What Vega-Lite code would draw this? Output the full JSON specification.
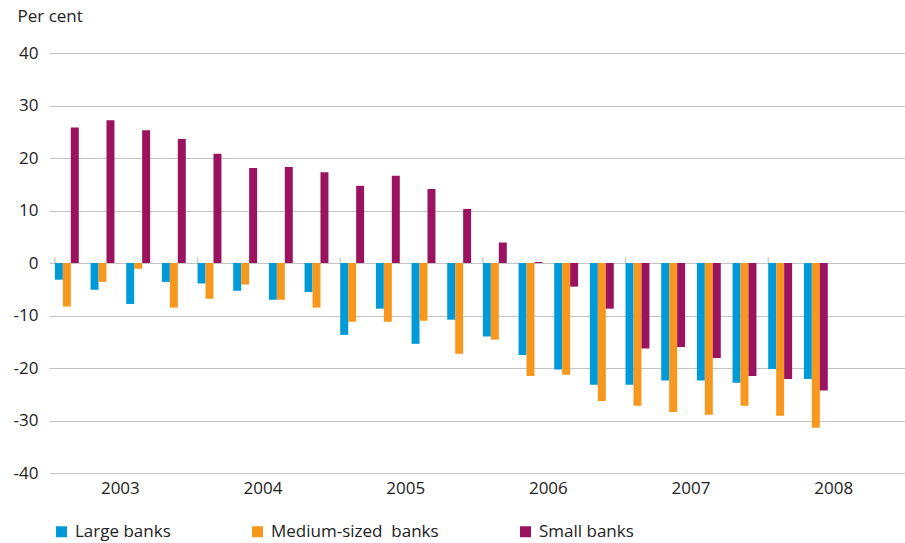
{
  "$schema": "https://vega.github.io/schema/vega-lite/v6.json",
  "width": 856,
  "height": 420,
  "autosize": "none",
  "padding": {"left": 49, "top": 53, "right": 0, "bottom": 70},
  "background": "white",
  "config": {
    "font": "Open Sans",
    "view": {"stroke": null}
  },
  "datasets": {
    "bars": [
      {"q": "2003Q1", "series": "Large banks", "value": -3.2},
      {"q": "2003Q1", "series": "Medium-sized banks", "value": -8.3},
      {"q": "2003Q1", "series": "Small banks", "value": 25.8},
      {"q": "2003Q2", "series": "Large banks", "value": -5.1},
      {"q": "2003Q2", "series": "Medium-sized banks", "value": -3.6},
      {"q": "2003Q2", "series": "Small banks", "value": 27.2},
      {"q": "2003Q3", "series": "Large banks", "value": -7.8},
      {"q": "2003Q3", "series": "Medium-sized banks", "value": -1.1},
      {"q": "2003Q3", "series": "Small banks", "value": 25.3},
      {"q": "2003Q4", "series": "Large banks", "value": -3.6},
      {"q": "2003Q4", "series": "Medium-sized banks", "value": -8.5},
      {"q": "2003Q4", "series": "Small banks", "value": 23.6},
      {"q": "2004Q1", "series": "Large banks", "value": -3.9},
      {"q": "2004Q1", "series": "Medium-sized banks", "value": -6.8},
      {"q": "2004Q1", "series": "Small banks", "value": 20.8},
      {"q": "2004Q2", "series": "Large banks", "value": -5.3},
      {"q": "2004Q2", "series": "Medium-sized banks", "value": -4.1},
      {"q": "2004Q2", "series": "Small banks", "value": 18.1},
      {"q": "2004Q3", "series": "Large banks", "value": -7.0},
      {"q": "2004Q3", "series": "Medium-sized banks", "value": -7.0},
      {"q": "2004Q3", "series": "Small banks", "value": 18.3},
      {"q": "2004Q4", "series": "Large banks", "value": -5.5},
      {"q": "2004Q4", "series": "Medium-sized banks", "value": -8.5},
      {"q": "2004Q4", "series": "Small banks", "value": 17.3},
      {"q": "2005Q1", "series": "Large banks", "value": -13.7},
      {"q": "2005Q1", "series": "Medium-sized banks", "value": -11.2},
      {"q": "2005Q1", "series": "Small banks", "value": 14.7},
      {"q": "2005Q2", "series": "Large banks", "value": -8.7},
      {"q": "2005Q2", "series": "Medium-sized banks", "value": -11.2},
      {"q": "2005Q2", "series": "Small banks", "value": 16.6},
      {"q": "2005Q3", "series": "Large banks", "value": -15.4},
      {"q": "2005Q3", "series": "Medium-sized banks", "value": -11.0},
      {"q": "2005Q3", "series": "Small banks", "value": 14.1},
      {"q": "2005Q4", "series": "Large banks", "value": -10.8},
      {"q": "2005Q4", "series": "Medium-sized banks", "value": -17.3},
      {"q": "2005Q4", "series": "Small banks", "value": 10.3},
      {"q": "2006Q1", "series": "Large banks", "value": -14.0},
      {"q": "2006Q1", "series": "Medium-sized banks", "value": -14.6},
      {"q": "2006Q1", "series": "Small banks", "value": 3.9},
      {"q": "2006Q2", "series": "Large banks", "value": -17.5},
      {"q": "2006Q2", "series": "Medium-sized banks", "value": -21.5},
      {"q": "2006Q2", "series": "Small banks", "value": 0.2},
      {"q": "2006Q3", "series": "Large banks", "value": -20.3},
      {"q": "2006Q3", "series": "Medium-sized banks", "value": -21.3},
      {"q": "2006Q3", "series": "Small banks", "value": -4.5},
      {"q": "2006Q4", "series": "Large banks", "value": -23.2},
      {"q": "2006Q4", "series": "Medium-sized banks", "value": -26.3},
      {"q": "2006Q4", "series": "Small banks", "value": -8.7},
      {"q": "2007Q1", "series": "Large banks", "value": -23.2},
      {"q": "2007Q1", "series": "Medium-sized banks", "value": -27.2},
      {"q": "2007Q1", "series": "Small banks", "value": -16.3},
      {"q": "2007Q2", "series": "Large banks", "value": -22.4},
      {"q": "2007Q2", "series": "Medium-sized banks", "value": -28.4},
      {"q": "2007Q2", "series": "Small banks", "value": -16.0},
      {"q": "2007Q3", "series": "Large banks", "value": -22.4},
      {"q": "2007Q3", "series": "Medium-sized banks", "value": -28.9},
      {"q": "2007Q3", "series": "Small banks", "value": -18.1},
      {"q": "2007Q4", "series": "Large banks", "value": -22.8},
      {"q": "2007Q4", "series": "Medium-sized banks", "value": -27.2},
      {"q": "2007Q4", "series": "Small banks", "value": -21.5},
      {"q": "2008Q1", "series": "Large banks", "value": -20.2},
      {"q": "2008Q1", "series": "Medium-sized banks", "value": -29.1},
      {"q": "2008Q1", "series": "Small banks", "value": -22.1},
      {"q": "2008Q2", "series": "Large banks", "value": -22.1},
      {"q": "2008Q2", "series": "Medium-sized banks", "value": -31.4},
      {"q": "2008Q2", "series": "Small banks", "value": -24.3}
    ],
    "ticks": [
      {"q": "2003Q1"}, {"q": "2004Q1"}, {"q": "2005Q1"}, {"q": "2006Q1"}, {"q": "2007Q1"}, {"q": "2008Q1"}
    ]
  },
  "layer": [
    {
      "data": {"name": "bars"},
      "mark": {"type": "bar"},
      "encoding": {
        "x": {
          "field": "q",
          "type": "nominal",
          "scale": {
            "domain": ["2003Q1","2003Q2","2003Q3","2003Q4","2004Q1","2004Q2","2004Q3","2004Q4","2005Q1","2005Q2","2005Q3","2005Q4","2006Q1","2006Q2","2006Q3","2006Q4","2007Q1","2007Q2","2007Q3","2007Q4","2008Q1","2008Q2","2008Q3","2008Q4"],
            "paddingInner": 0.33,
            "paddingOuter": 0.165
          },
          "axis": {
            "values": ["2003Q3","2004Q3","2005Q3","2006Q3","2007Q3","2008Q3"],
            "labelOffset": -17.8,
            "labelExpr": "slice(datum.label, 0, 4)",
            "title": null,
            "domain": false,
            "ticks": false,
            "grid": false,
            "labelAngle": 0,
            "labelPadding": 7,
            "labelFontSize": 17,
            "labelColor": "#222222",
            "labelFont": "Open Sans"
          }
        },
        "xOffset": {
          "field": "series",
          "type": "nominal",
          "sort": ["Large banks", "Medium-sized banks", "Small banks"],
          "scale": {"paddingInner": 0, "paddingOuter": 0}
        },
        "y": {
          "field": "value",
          "type": "quantitative",
          "scale": {"domain": [-40, 40], "nice": false},
          "axis": {
            "values": [-40, -30, -20, -10, 0, 10, 20, 30, 40],
            "labelExpr": "toString(datum.value)",
            "title": "Per cent",
            "titleAngle": 0,
            "titleAlign": "left",
            "titleBaseline": "alphabetic",
            "titleX": -32,
            "titleY": -32,
            "titleFontSize": 17,
            "titleFontWeight": "normal",
            "titleColor": "#222222",
            "titleFont": "Open Sans",
            "domain": false,
            "ticks": false,
            "labelPadding": 11,
            "labelFontSize": 17,
            "labelColor": "#222222",
            "labelFont": "Open Sans",
            "gridColor": "#c4c4c4",
            "gridWidth": 1.2
          }
        },
        "color": {
          "field": "series",
          "type": "nominal",
          "scale": {
            "domain": ["Large banks", "Medium-sized banks", "Small banks"],
            "range": ["#009ad9", "#f7971d", "#9b135f"]
          },
          "legend": {
            "title": null,
            "orient": "none",
            "legendX": 4,
            "legendY": 470,
            "direction": "horizontal",
            "columns": 3,
            "columnPadding": 78,
            "symbolType": "square",
            "symbolSize": 121,
            "symbolStrokeWidth": 0,
            "labelFontSize": 17,
            "labelLimit": 400,
            "labelColor": "#222222",
            "labelFont": "Open Sans",
            "labelOffset": 5,
            "labelExpr": "datum.label == 'Medium-sized banks' ? 'Medium-sized\u00a0 banks' : datum.label"
          }
        }
      }
    },
    {
      "data": {"name": "ticks"},
      "mark": {"type": "rule", "color": "#c4c4c4", "strokeWidth": 1.2},
      "encoding": {
        "x": {"field": "q", "type": "nominal", "bandPosition": 0},
        "y": {"datum": 0},
        "y2": {"datum": 1.1}
      }
    }
  ]
}
